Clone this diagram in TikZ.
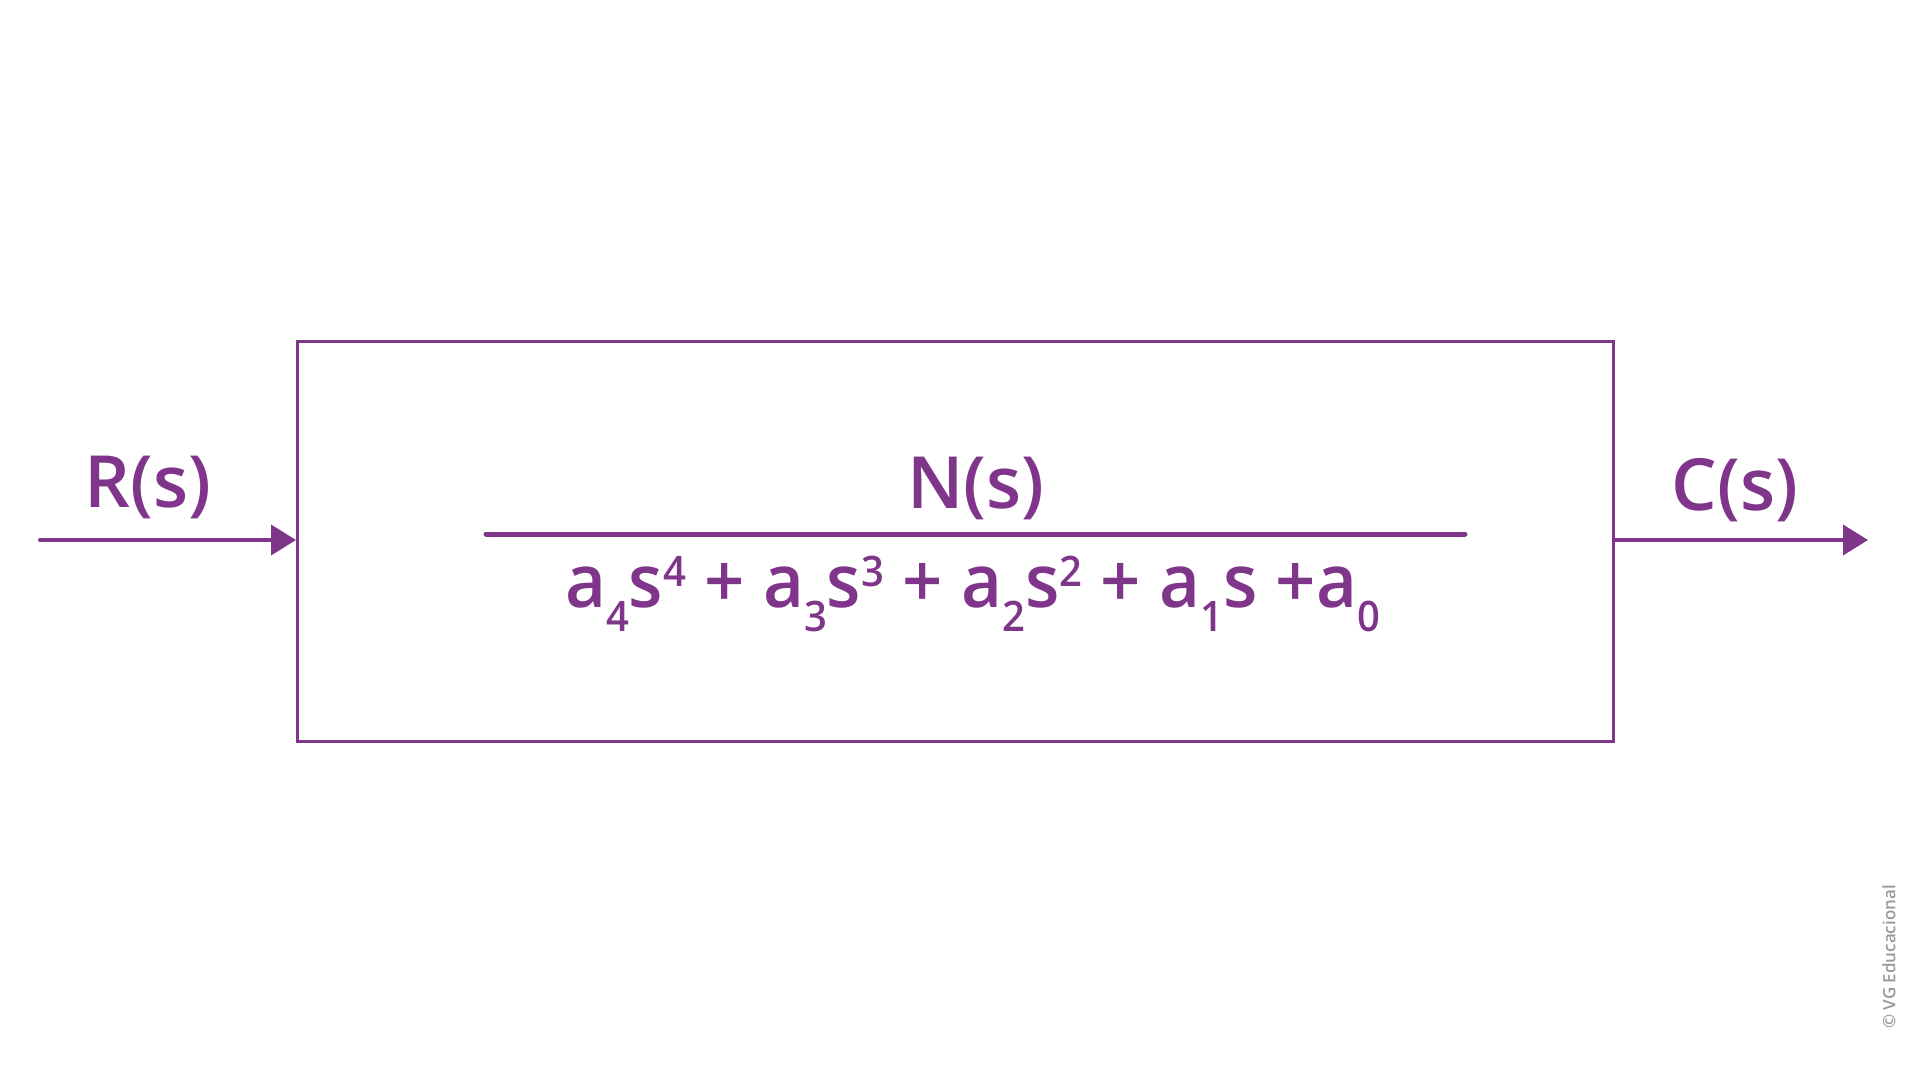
\documentclass[tikz,border=0pt]{standalone}
\usepackage{fontspec}
\setmainfont{Open Sans Semibold}
\usetikzlibrary{arrows.meta}
\definecolor{vgpurple}{HTML}{7F3589}
\definecolor{vggray}{HTML}{9A9A9A}
\newcommand\vgsub[1]{\raisebox{-24pt}{\fontsize{42}{44}\selectfont #1}}
\newcommand\vgsup[1]{\raisebox{21pt}{\fontsize{42}{44}\selectfont #1}}
\tikzset{
  lbl/.style={text=vgpurple, font=\fontsize{72}{80}\selectfont, inner sep=0pt, anchor=base},
  sig/.style={draw=vgpurple, line width=4pt, -{Triangle[length=25pt,width=30pt]}, line cap=round},
  blockbox/.style={draw=vgpurple, line width=3pt, minimum width=1316pt, minimum height=400pt, inner sep=0pt, anchor=north west},
}
\begin{document}
\begin{tikzpicture}[x=1pt,y=-1pt]
\useasboundingbox[fill=white] (0,0) rectangle (1920,1080);
\node[blockbox] (blk) at (296,340) {};
\coordinate (in) at (40,540);
\coordinate (out) at (1868,540);
\draw[sig] (in) -- (in -| blk.west);
\draw[sig] (blk.east |- out) -- (out);
\node[lbl] (R) at (148,507) {R(s)};
\node[lbl] (C) at (1735,510) {C(s)};
\node[lbl] (N) at (976,508) {N(s)};
\coordinate (fl) at (486,534);
\coordinate (fr) at (1465,534);
\draw[vgpurple, line width=5pt, line cap=round] (fl) -- (fr);
\node[lbl, font=\fontsize{74}{80}\selectfont] (D) at (972.5,607) {\scalebox{0.954}[1]{a\vgsub{4}s\vgsup{4} + a\vgsub{3}s\vgsup{3} + a\vgsub{2}s\vgsup{2} + a\vgsub{1}s +a\vgsub{0}}};
\node[text=vggray, font=\fontsize{17}{18}\selectfont, rotate=90, inner sep=0pt] (cp) at (1889,957) {© VG Educacional};
\end{tikzpicture}
\end{document}
